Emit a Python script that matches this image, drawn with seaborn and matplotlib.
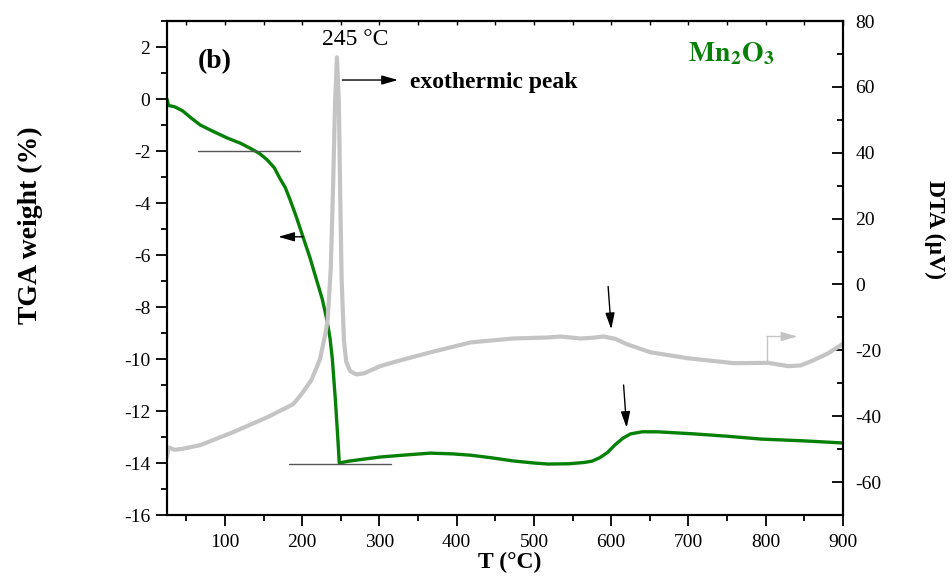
import matplotlib
matplotlib.use("Agg")
import matplotlib.pyplot as plt
from matplotlib.ticker import MultipleLocator
import seaborn as sns
import pandas as pd

# TGA weight loss (%) versus temperature (°C)
tga_temp = [25, 27, 35, 45, 55, 68, 85, 103, 120, 133, 145, 155, 164, 171, 178,
            184, 192, 201, 210, 219, 226, 232, 236, 239, 243, 246, 248, 260, 280,
            301, 330, 366, 395, 418, 445, 473, 500, 518, 545, 565, 575, 585, 595,
            605, 615, 625, 640, 660, 707, 750, 794, 850, 900]
tga_weight = [0.0, -0.25, -0.3, -0.45, -0.7, -1.0, -1.25, -1.5, -1.7, -1.9, -2.1,
              -2.35, -2.65, -3.05, -3.4, -3.85, -4.5, -5.3, -6.1, -7.0, -7.7, -8.5,
              -9.2, -10.0, -11.6, -13.0, -14.0, -13.93, -13.85, -13.77, -13.7,
              -13.62, -13.65, -13.7, -13.8, -13.92, -14.0, -14.04, -14.03, -13.98,
              -13.93, -13.8, -13.6, -13.3, -13.05, -12.88, -12.8, -12.8, -12.88,
              -12.97, -13.08, -13.15, -13.23]

# DTA signal (µV) versus temperature (°C)
dta_temp = [25, 27, 35, 45, 68, 111, 155, 188, 194, 200, 212, 223, 230, 233, 237,
            240, 242.5, 245, 247.5, 249, 251, 254, 257, 262, 270, 280, 301, 323,
            366, 418, 473, 518, 534, 560, 575, 590, 605, 621, 651, 699, 759, 803,
            829, 845, 859, 880, 900]
dta_signal = [-52.5, -49.5, -50.2, -49.9, -48.8, -44.8, -40.3, -36.4, -34.8, -33.0,
              -29.0, -22.7, -15.0, -10.6, 5.0, 30.0, 55.0, 69.0, 55.0, 30.0, 2.0,
              -17.0, -23.5, -26.3, -27.3, -27.0, -24.8, -23.3, -20.6, -17.6, -16.4,
              -16.1, -15.8, -16.4, -16.2, -15.8, -16.5, -18.2, -20.6, -22.4, -23.9,
              -23.8, -24.8, -24.6, -23.3, -21.0, -18.0]

peak_temp = 245

tga = pd.DataFrame({"T": tga_temp, "w": tga_weight})
dta = pd.DataFrame({"T": dta_temp, "s": dta_signal})

sns.set_theme(style="ticks")
plt.rcParams["font.family"] = ["Liberation Serif", "DejaVu Serif"]
plt.rcParams["mathtext.fontset"] = "stix"
plt.rcParams["axes.unicode_minus"] = False
for key in ("text.color", "axes.labelcolor", "xtick.color", "ytick.color",
            "axes.edgecolor"):
    plt.rcParams[key] = "black"

W, H = 952, 576
fig = plt.figure(figsize=(W / 100, H / 100), dpi=100)
ax = fig.add_axes([167 / W, 1 - 515 / H, (843 - 167) / W, (515 - 21) / H])
ax2 = ax.twinx()

green = "#068006"
grey = "#c4c4c4"

sns.lineplot(data=tga, x="T", y="w", ax=ax, color=green, lw=2.4,
             estimator=None, sort=False)
sns.lineplot(data=dta, x="T", y="s", ax=ax2, color=grey, lw=3.0,
             estimator=None, sort=False)

ax.set_xlim(25, 900)
ax.set_ylim(-16, 3)
ax2.set_ylim(-70, 80)
ax.set_xlabel("")
ax.set_ylabel("")
ax2.set_ylabel("")

for a in (ax, ax2):
    for s in a.spines.values():
        s.set_linewidth(1.5)
        s.set_color("black")
        s.set_visible(True)

ax.xaxis.set_major_locator(MultipleLocator(100))
ax.xaxis.set_minor_locator(MultipleLocator(50))
ax.yaxis.set_major_locator(MultipleLocator(2))
ax.yaxis.set_minor_locator(MultipleLocator(1))
ax2.yaxis.set_major_locator(MultipleLocator(20))
ax2.yaxis.set_minor_locator(MultipleLocator(10))

ax.tick_params(axis="x", which="major", direction="out", length=8, width=1.3,
               labelsize=14, pad=6, top=False)
ax.tick_params(axis="x", which="minor", direction="out", length=4, width=1.3, top=False)
ax.tick_params(axis="y", which="major", direction="out", length=8, width=1.3,
               labelsize=14, pad=4, right=False)
ax.tick_params(axis="y", which="minor", direction="out", length=4, width=1.3, right=False)
ax2.tick_params(axis="y", which="major", direction="in", length=8, width=1.3,
                labelsize=14, pad=9)
ax2.tick_params(axis="y", which="minor", direction="in", length=4, width=1.3)

top = ax.secondary_xaxis("top")
top.xaxis.set_major_locator(MultipleLocator(100))
top.xaxis.set_minor_locator(MultipleLocator(50))
top.tick_params(which="both", direction="in", length=3, width=1.0, labeltop=False)
top.spines["top"].set_linewidth(1.5)

# Reference lines marking the weight-loss step
ax.plot([65, 197], [-2, -2], color="#555555", lw=1.0)
ax.plot([183, 315], [-14.05, -14.05], color="#555555", lw=1.0)

head = "-|>,head_length=0.7,head_width=0.2"
black_arrow = dict(arrowstyle=head, color="black", lw=1.0, mutation_scale=14,
                   shrinkA=0, shrinkB=0)

ax.annotate("", xy=(169, -5.3), xytext=(201, -5.3), arrowprops=black_arrow)
ax.annotate("", xy=(324, 0.73), xytext=(252, 0.73), arrowprops=black_arrow)
ax.annotate("", xy=(620, -12.65), xytext=(616, -11.0), arrowprops=black_arrow)
ax2.annotate("", xy=(600, -13.6), xytext=(596, -0.6), arrowprops=black_arrow)

# Axis indicator for the DTA curve
ax2.plot([801.5, 801.5], [-23.6, -15.8], color=grey, lw=1.0)
ax2.annotate("", xy=(841, -15.8), xytext=(801.5, -15.8),
             arrowprops=dict(arrowstyle=head, color=grey, lw=1.0,
                             mutation_scale=14, shrinkA=0, shrinkB=0))

ax.text(268.5, 2.27, f"{peak_temp} °C", fontsize=17, ha="center", va="center")
ax.text(340, 0.65, "exothermic peak", fontsize=17, fontweight="bold",
        ha="left", va="center")
ax.text(87, 1.42, "(b)", fontsize=20, fontweight="bold", ha="center", va="center")
ax.text(755, 1.75, r"$\mathbf{Mn_2O_3}$", fontsize=20, color=green,
        ha="center", va="center")

fig.text(30 / W, 1 - 225 / H, "TGA weight (%)", rotation=90, fontsize=20,
         fontweight="bold", ha="center", va="center")
fig.text(935 / W, 1 - 229 / H, "DTA (µV)", rotation=270, fontsize=17,
         fontweight="bold", ha="center", va="center")
fig.text(510 / W, 1 - 562 / H, "T (°C)", fontsize=17, fontweight="bold",
         ha="center", va="center")

fig.savefig("out.png", dpi=100)
